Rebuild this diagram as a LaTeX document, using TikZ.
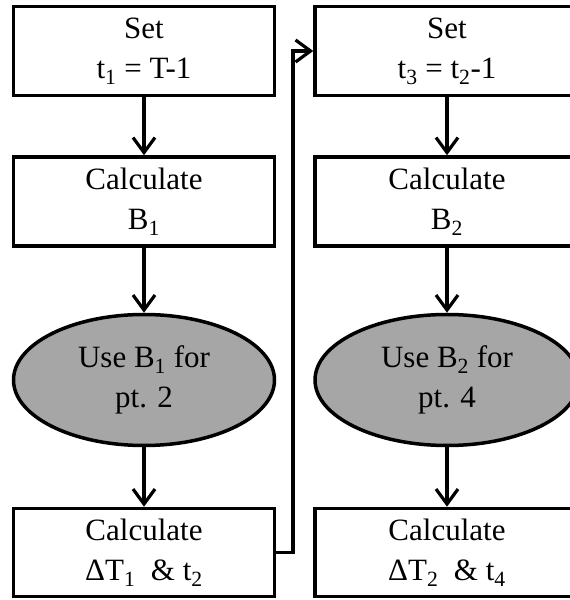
\documentclass[tikz,border=0pt]{standalone}
\usepackage{fontspec}
\setmainfont{Liberation Serif}
\usetikzlibrary{shapes.geometric,arrows.meta}
\definecolor{discfill}{RGB}{166,166,166}
\tikzset{
  base/.style={draw=black, line width=3.5pt, inner sep=0pt, align=center,
    font=\fontsize{31}{40}\selectfont},
  stepbox/.style={base, rectangle, minimum width=261pt, minimum height=89pt},
  usedisc/.style={base, ellipse, fill=discfill, minimum width=261pt, minimum height=131pt},
  flow/.style={line width=3.2pt, -{Straight Barb[length=15pt,width=22pt,line width=3.2pt]}}
}
\begin{document}
\begin{tikzpicture}[x=1pt,y=1pt]
  \useasboundingbox (0,0) rectangle (570,600);
  \clip (0,0) rectangle (570,600);
  % first pass
  \node[stepbox] (b1) at (144,549) {Set\\t\textsubscript{1} = T-1};
  \node[stepbox] (b2) at (144,398.5) {Calculate\\B\textsubscript{1}};
  \node[usedisc] (e1) at (144,220) {Use B\textsubscript{1} for\\pt. 2};
  \node[stepbox, minimum height=88pt] (b4) at (144,47.5) {Calculate\\ΔT\textsubscript{1}\ \ \& t\textsubscript{2}};
  % second pass (runs past the right margin)
  \node[stepbox, minimum width=264pt] (c1) at (447,549) {Set\\t\textsubscript{3} = t\textsubscript{2}-1};
  \node[stepbox, minimum width=264pt] (c2) at (447,398.5) {Calculate\\B\textsubscript{2}};
  \node[usedisc, minimum width=264pt] (e2) at (447,220) {Use B\textsubscript{2} for\\pt. 4};
  \node[stepbox, minimum width=264pt, minimum height=88pt] (c4) at (447,47.5) {Calculate\\ΔT\textsubscript{2}\ \ \& t\textsubscript{4}};
  % vertical flow
  \draw[flow] (b1) -- (b2);
  \draw[flow] (b2) -- (e1);
  \draw[flow] (e1) -- (b4);
  \draw[flow] (c1) -- (c2);
  \draw[flow] (c2) -- (e2);
  \draw[flow] (e2) -- (c4);
  % loop back to the second pass
  \coordinate (turn) at (293,549);
  \draw[flow] (b4.east) -| (turn) -- (c1.west);
\end{tikzpicture}
\end{document}
